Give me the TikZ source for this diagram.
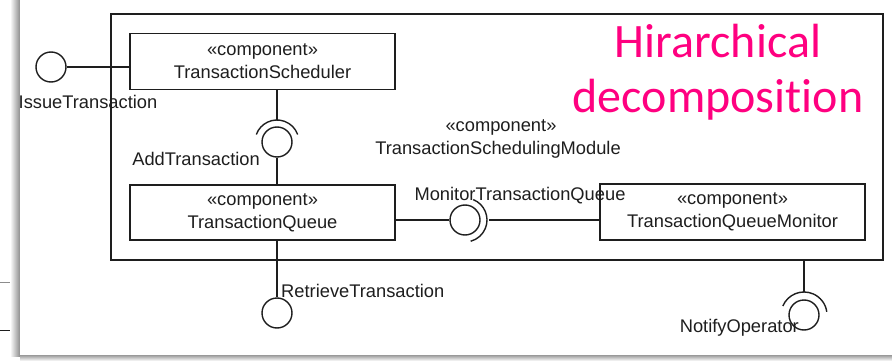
\documentclass[tikz,border=0pt]{standalone}
\usepackage{fontspec}
\setmainfont{Liberation Sans}
\newfontfamily\titlefont[Ligatures=NoCommon]{Carlito}
\usetikzlibrary{calc}
\definecolor{ink}{RGB}{30,30,30}
\definecolor{hotpink}{RGB}{255,0,128}
\tikzset{
  comp/.style={draw=ink, line width=1.5pt, minimum width=265pt, minimum height=56pt,
    inner sep=0pt, align=center, text=ink, font=\fontsize{18.3}{23}\selectfont},
  ball/.style={circle, draw=ink, line width=1.4pt, minimum size=30pt, inner sep=0pt, fill=white},
  socket/.style={draw=ink, line width=1.4pt},
  strong/.style={draw=ink, line width=2.8pt},
  weak/.style={draw=ink, line width=1.3pt},
  lbl/.style={text=ink, inner sep=0pt, font=\fontsize{18.3}{22}\selectfont},
  title/.style={text=hotpink, inner sep=0pt, anchor=base, font=\titlefont\fontsize{48}{54}\selectfont}
}
\begin{document}
\begin{tikzpicture}[x=1pt, y=-1pt]
\useasboundingbox (0,0) rectangle (892,361);

% page showing behind the card
\draw[black!45, line width=1pt] (0,282) -- (20,282);
\draw[ink, line width=1pt] (0,330) -- (20,330);
\draw[ink, line width=0.8pt] (92,355) -- (95,361);
\draw[ink, line width=0.8pt] (115,355) -- (115,361);

% card with its drop shadow
\shade[left color=white, right color=black!45] (10,0) rectangle (20,356);
\shade[top color=black!40, bottom color=white] (20,355) rectangle (892,361);
\fill[white] (20,-2) rectangle (894,355);

% enclosing module
\node[draw=ink, line width=1.8pt, minimum width=772pt, minimum height=246pt, inner sep=0pt]
  (module) at (497,137) {};
\node[lbl] (modstereo) at (501,127) {«component»};
\node[lbl] (modname) at (498,150) {TransactionSchedulingModule};

% title
\node[title] (titleA) at (718,58) {Hirarchical};
\node[title] (titleB) at (718,112) {decomposition};

% components
\node[comp] (sched) at (262.5,61.5) {«component»\\TransactionScheduler};
\node[comp, minimum height=55pt] (queue) at (262.5,212.5) {«component»\\TransactionQueue};
\node[comp] (monitor) at (732.5,212) {«component»\\TransactionQueueMonitor};

% provided interfaces (balls)
\node[ball] (issue) at (51,67) {};
\node[ball] (add) at (277,142) {};
\node[ball] (mtq) at (465,220) {};
\node[ball] (retr) at (277,313) {};
\node[ball] (notify) at (804,315) {};

% required interfaces (sockets)
\draw[socket] ([shift={(200:22)}]add.center) arc[start angle=200, end angle=340, radius=22];
\draw[socket] ([shift={(-68:22)}]mtq.center) arc[start angle=-68, end angle=75, radius=22];
\draw[socket] ([shift={(203:23)}]notify.center) arc[start angle=203, end angle=352, radius=23];

% connectors
\draw[strong] (issue.east) -- (issue.east -| sched.west);
\draw[weak] (add.center |- sched.south) -- ($(add.center)+(0,-22)$);
\draw[strong] (add.south) -- (add.south |- queue.north);
\draw[strong] (mtq.west -| queue.east) -- (mtq.west);
\draw[weak] ($(mtq.center)+(24,0)$) -- (mtq.center -| monitor.west);
\draw[strong] (retr.center |- queue.south) -- (retr.north);
\draw[weak] (notify.center |- module.south) -- ($(notify.center)+(0,-23)$);

% interface names
\node[lbl] (issuelbl) at (88,102) {IssueTransaction};
\node[lbl, anchor=east] (addlbl) at (260,159) {AddTransaction};
\node[lbl] (mtqlbl) at (520,196) {MonitorTransactionQueue};
\node[lbl, anchor=west] (retrlbl) at (281,291) {RetrieveTransaction};
\node[lbl, anchor=east] (notifylbl) at (799,328) {NotifyOperator};
\end{tikzpicture}
\end{document}
